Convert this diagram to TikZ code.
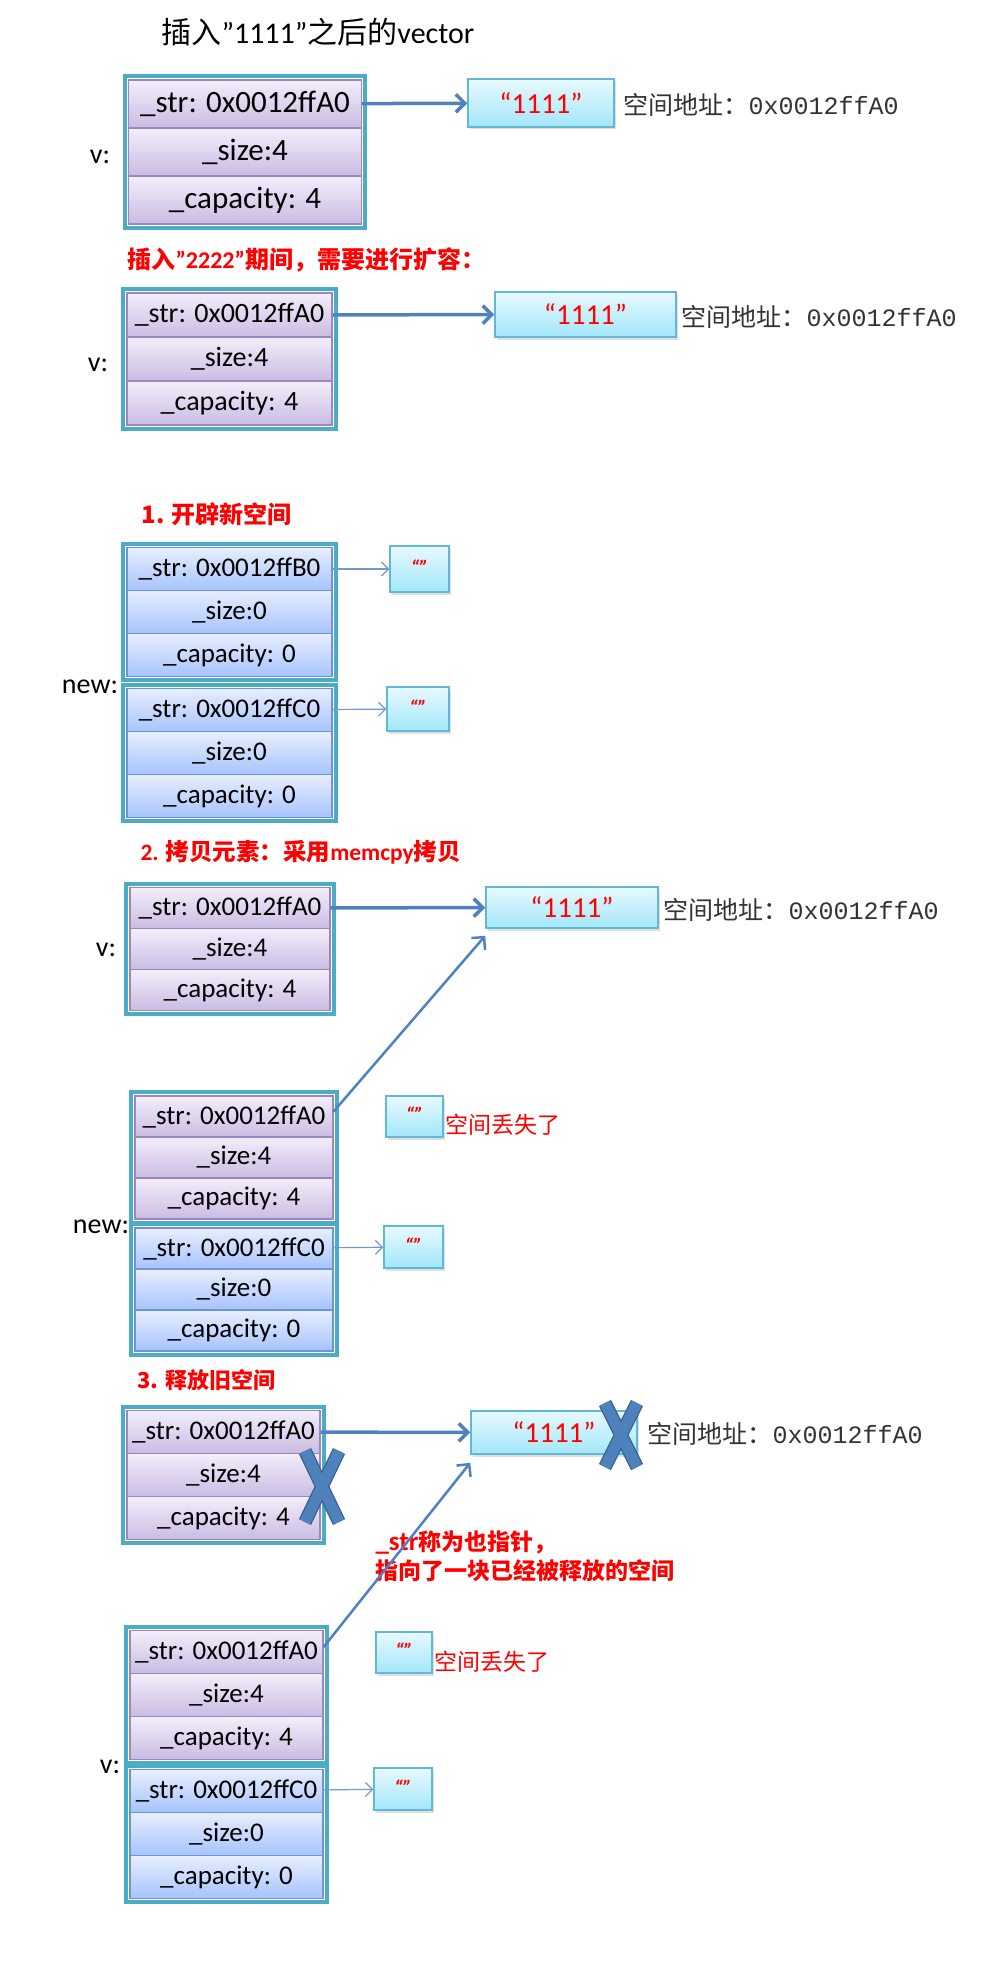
\documentclass[tikz,border=0pt]{standalone}
\usepackage{fontspec}
\setmainfont{Carlito}
\newfontfamily\cjk{Noto Sans CJK SC}
\newfontfamily\mono{Liberation Mono}
\usetikzlibrary{arrows.meta, fit, shadows}

\definecolor{frameteal}{HTML}{4BACC6}
\definecolor{purpline}{HTML}{9B87C0}
\definecolor{purptop}{HTML}{F3EEFA}
\definecolor{purpbot}{HTML}{CBBBE3}
\definecolor{blueline}{HTML}{6E95D3}
\definecolor{bluetop}{HTML}{E8EFFF}
\definecolor{bluebot}{HTML}{A6C3FC}
\definecolor{cyanline}{HTML}{62B9D6}
\definecolor{cyantop}{HTML}{E8F9FE}
\definecolor{cyanbot}{HTML}{A2E7FA}
\definecolor{arrowblue}{HTML}{4F81BD}
\definecolor{thinblue}{HTML}{7199CF}
\definecolor{xdark}{HTML}{385D8A}
\definecolor{addrgray}{HTML}{333333}

\begin{document}
\begin{tikzpicture}[x=1pt, y=-1pt,
    vrow/.style 2 args={draw=purpline, line width=1.2pt, top color=purptop, bottom color=purpbot,
        minimum width=#1pt, minimum height=#2pt, inner sep=0pt, font=\fontsize{27}{30}\selectfont},
    nrow/.style 2 args={draw=blueline, line width=1.2pt, top color=bluetop, bottom color=bluebot,
        minimum width=#1pt, minimum height=#2pt, inner sep=0pt, font=\fontsize{27}{30}\selectfont},
    frame/.style={draw=frameteal, line width=4pt, inner sep=3pt},
    strbox/.style 2 args={draw=cyanline, line width=1.5pt, top color=cyantop, bottom color=cyanbot,
        minimum width=#1pt, minimum height=#2pt, text=red, font=\fontsize{29}{30}\selectfont,
        drop shadow={shadow xshift=1.5pt, shadow yshift=-2.5pt, opacity=0.25}},
    emptybox/.style 2 args={draw=cyanline, line width=1.5pt, top color=cyantop, bottom color=cyanbot,
        minimum width=#1pt, minimum height=#2pt, inner sep=0pt, text=red,
        font=\bfseries\itshape\fontsize{20}{20}\selectfont,
        drop shadow={shadow xshift=1.5pt, shadow yshift=-2.5pt, opacity=0.25}},
    addr/.style={anchor=west, text=addrgray, font=\cjk\fontsize{25}{28}\selectfont},
    note/.style={anchor=west, text=red, font=\cjk\bfseries\fontsize{24}{28}\selectfont},
    lost/.style={anchor=west, text=red, font=\cjk\fontsize{23}{26}\selectfont},
    lbl/.style={font=\fontsize{28}{30}\selectfont},
    ptr/.style={draw=arrowblue, line width=3.5pt, -{Straight Barb[length=9pt, width=18pt]}},
    thin/.style={draw=thinblue, line width=1.2pt, -{Straight Barb[length=7pt, width=14pt]}},
    xmark/.style={draw=arrowblue, line width=11pt, preaction={draw=xdark, line width=13.5pt}}
]
\useasboundingbox (0,0) rectangle (993,1961);

\node[anchor=west, font=\fontsize{30}{32}\selectfont] (title) at (158,32) {{\cjk 插入}”1111”{\cjk 之后的}vector};

% vector after inserting 1111
\node[vrow={233}{48}, font=\fontsize{31}{32}\selectfont] (v1s) at (245,104) {\_str: 0x0012ffA0};
\node[vrow={233}{48}, font=\fontsize{31}{32}\selectfont] (v1z) at (245,152) {\_size:4};
\node[vrow={233}{48}, font=\fontsize{31}{32}\selectfont] (v1c) at (245,200) {\_capacity: 4};
\node[frame, fit=(v1s)(v1c)] (v1) {};
\node[lbl] (v1l) at (100,157) {v:};
\node[strbox={146}{48}] (s1) at (541,103) {“1111”};
\node[addr] (a1) at (620,105) {空间地址：{\mono 0x0012ffA0}};
\draw[ptr] (v1s) -- (s1);

% inserting 2222
\node[note] (t2) at (124,260) {插入{\rmfamily”2222”}期间，需要进行扩容：};
\node[vrow={205}{44}, font=\fontsize{28}{30}\selectfont] (v2s) at (229.5,315) {\_str: 0x0012ffA0};
\node[vrow={205}{44}, font=\fontsize{28}{30}\selectfont] (v2z) at (229.5,359) {\_size:4};
\node[vrow={205}{44}, font=\fontsize{28}{30}\selectfont] (v2c) at (229.5,403) {\_capacity: 4};
\node[frame, fit=(v2s)(v2c)] (v2) {};
\node[lbl] (v2l) at (98,365) {v:};
\node[strbox={181}{45}] (s2) at (585.5,314.5) {“1111”};
\node[addr] (a2) at (678,317) {空间地址：{\mono 0x0012ffA0}};
\draw[ptr] (v2s) -- (s2);

% step 1
\node[note] (t3) at (138,514) {1. 开辟新空间};
\node[nrow={205}{43}] (n1s) at (229.5,569) {\_str: 0x0012ffB0};
\node[nrow={205}{43}] (n1z) at (229.5,612) {\_size:0};
\node[nrow={205}{43}] (n1c) at (229.5,655) {\_capacity: 0};
\node[frame, fit=(n1s)(n1c)] (n1) {};
\node[nrow={205}{43}] (n2s) at (229.5,710) {\_str: 0x0012ffC0};
\node[nrow={205}{43}] (n2z) at (229.5,753) {\_size:0};
\node[nrow={205}{43}] (n2c) at (229.5,796) {\_capacity: 0};
\node[frame, fit=(n2s)(n2c)] (n2) {};
\node[lbl] (n1l) at (90,687) {new:};
\node[emptybox={59}{46}] (e1) at (419.5,569) {\raisebox{4pt}{“”}};
\node[emptybox={62}{44}] (e2) at (418,709) {\raisebox{4pt}{“”}};
\draw[thin] (n1s) -- (e1);
\draw[thin] (n2s) -- (e2);

% step 2
\node[note, font=\cjk\bfseries\fontsize{23.5}{28}\selectfont] (t4) at (137,852) {{\rmfamily 2. }拷贝元素：采用{\rmfamily memcpy}拷贝};
\node[vrow={200}{41}] (v3s) at (230,908) {\_str: 0x0012ffA0};
\node[vrow={200}{41}] (v3z) at (230,949) {\_size:4};
\node[vrow={200}{41}] (v3c) at (230,990) {\_capacity: 4};
\node[frame, fit=(v3s)(v3c)] (v3) {};
\node[lbl] (v3l) at (106,950) {v:};
\node[strbox={172}{41}] (s3) at (572,907.5) {“1111”};
\node[addr] (a3) at (660,910) {空间地址：{\mono 0x0012ffA0}};
\draw[ptr] (v3s) -- (s3);

\node[vrow={198}{41}] (n3s) at (234,1116.5) {\_str: 0x0012ffA0};
\node[vrow={198}{41}] (n3z) at (234,1157.5) {\_size:4};
\node[vrow={198}{41}] (n3c) at (234,1198.5) {\_capacity: 4};
\node[frame, fit=(n3s)(n3c)] (n3) {};
\node[nrow={198}{41}] (n4s) at (234,1248.5) {\_str: 0x0012ffC0};
\node[nrow={198}{41}] (n4z) at (234,1289.5) {\_size:0};
\node[nrow={198}{41}] (n4c) at (234,1330.5) {\_capacity: 0};
\node[frame, fit=(n4s)(n4c)] (n4) {};
\node[lbl] (n3l) at (101,1227) {new:};
\node[emptybox={57}{41}] (e3) at (414.5,1116.5) {\raisebox{4pt}{“”}};
\node[lost] (l3) at (442,1125) {空间丢失了};
\node[emptybox={59}{42}] (e4) at (413.5,1247) {\raisebox{4pt}{“”}};
\draw[thin] (n4s) -- (e4);
\draw[ptr, line width=2.5pt] ([yshift=5pt]n3s.east) -- ([yshift=-7pt]s3.south west);

% step 3
\node[note, font=\cjk\bfseries\fontsize{22}{26}\selectfont] (t5) at (134,1380) {3. 释放旧空间};
\node[vrow={193}{43}] (v5s) at (223.5,1432) {\_str: 0x0012ffA0};
\node[vrow={193}{43}] (v5z) at (223.5,1475) {\_size:4};
\node[vrow={193}{43}] (v5c) at (223.5,1518) {\_capacity: 4};
\node[frame, fit=(v5s)(v5c)] (v5) {};
\node[strbox={166}{43}] (s5) at (554,1432.5) {“1111”};
\node[addr] (a5) at (644,1434) {空间地址：{\mono 0x0012ffA0}};
\draw[ptr] (v5s) -- (s5);
\draw[xmark] (305,1451) -- (339,1522) (339,1451) -- (305,1522);
\draw[xmark] (605,1403) -- (637,1467) (637,1403) -- (605,1467);
\node[note, font=\cjk\bfseries\fontsize{23}{26}\selectfont] (t6) at (372,1543) {{\rmfamily\fontsize{27}{28}\selectfont\_str}称为也指针，};
\node[note, font=\cjk\bfseries\fontsize{23}{26}\selectfont] (t7) at (372,1571) {指向了一块已经被释放的空间};

\node[vrow={193}{43}] (n5s) at (226.5,1652) {\_str: 0x0012ffA0};
\node[vrow={193}{43}] (n5z) at (226.5,1695) {\_size:4};
\node[vrow={193}{43}] (n5c) at (226.5,1738) {\_capacity: 4};
\node[frame, fit=(n5s)(n5c)] (n5) {};
\node[nrow={193}{43}] (n6s) at (226.5,1791) {\_str: 0x0012ffC0};
\node[nrow={193}{43}] (n6z) at (226.5,1834) {\_size:0};
\node[nrow={193}{43}] (n6c) at (226.5,1877) {\_capacity: 0};
\node[frame, fit=(n6s)(n6c)] (n6) {};
\node[lbl] (n5l) at (110,1767) {v:};
\node[emptybox={56}{41}] (e5) at (404,1652.5) {\raisebox{4pt}{“”}};
\node[lost] (l5) at (431,1662) {空间丢失了};
\node[emptybox={58}{42}] (e6) at (403,1789) {\raisebox{4pt}{“”}};
\draw[thin] (n6s) -- (e6);
\draw[ptr, line width=2.5pt] ([yshift=5pt]n5s.east) -- ([yshift=-8pt]s5.south west);
\end{tikzpicture}
\end{document}
